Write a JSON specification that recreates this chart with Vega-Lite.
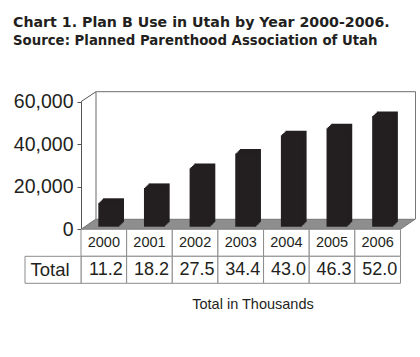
{
  "$schema": "https://vega.github.io/schema/vega-lite/v6.json",
  "autosize": {"type": "none"},
  "width": 333,
  "height": 192,
  "padding": {"left": 81, "top": 92, "right": 6, "bottom": 73},
  "background": "white",
  "config": {"view": {"stroke": null}, "font": "Liberation Sans"},
  "title": {
    "text": "Chart 1. Plan B Use in Utah by Year 2000-2006.",
    "subtitle": "Source: Planned Parenthood Association of Utah",
    "anchor": "start",
    "frame": "group",
    "font": "DejaVu Sans",
    "fontSize": 14.2,
    "fontWeight": "bold",
    "color": "#231f20",
    "subtitleFont": "DejaVu Sans",
    "subtitleFontSize": 13.3,
    "subtitleFontWeight": "bold",
    "subtitleColor": "#231f20",
    "subtitlePadding": 4,
    "dx": -68,
    "offset": 43
  },
  "data": {"values": [
    {"year": "2000", "total": 11.2},
    {"year": "2001", "total": 18.2},
    {"year": "2002", "total": 27.5},
    {"year": "2003", "total": 34.4},
    {"year": "2004", "total": 43.0},
    {"year": "2005", "total": 46.3},
    {"year": "2006", "total": 52.0}
  ]},
  "resolve": {"scale": {"x": "independent", "y": "independent"}, "axis": {"x": "independent", "y": "independent"}},
  "layer": [
    {
      "data": {"values": [{}]},
      "mark": {"type": "rule", "color": "#6d6d6d", "strokeWidth": 1, "xOffset": 15, "x2Offset": 15, "yOffset": -10},
      "encoding": {
        "x": {"datum": "2000", "type": "ordinal", "bandPosition": 0, "scale": {"domain": ["2000","2001","2002","2003","2004","2005","2006"], "range": [0, 319.5], "paddingInner": 0, "paddingOuter": 0}, "axis": null},
        "x2": {"datum": "2006", "bandPosition": 1},
        "y": {"datum": 60, "type": "quantitative", "scale": {"domain": [0, 60], "range": [137.3, 9.7], "nice": false}, "axis": null}
      }
    },
    {
      "data": {"values": [{}]},
      "mark": {"type": "rule", "color": "#b4b4b4", "strokeWidth": 2, "xOffset": 15, "yOffset": -10, "y2Offset": -10},
      "encoding": {
        "x": {"datum": "2000", "type": "ordinal", "bandPosition": 0, "scale": {"domain": ["2000","2001","2002","2003","2004","2005","2006"], "range": [0, 319.5], "paddingInner": 0, "paddingOuter": 0}, "axis": null},
        "y": {"datum": 60, "type": "quantitative", "scale": {"domain": [0, 60], "range": [137.3, 9.7], "nice": false}, "axis": null},
        "y2": {"datum": 0}
      }
    },
    {
      "data": {"values": [{}]},
      "mark": {"type": "rule", "color": "#777777", "strokeWidth": 1, "xOffset": 15, "yOffset": -10, "y2Offset": -10},
      "encoding": {
        "x": {"datum": "2006", "type": "ordinal", "bandPosition": 1, "scale": {"domain": ["2000","2001","2002","2003","2004","2005","2006"], "range": [0, 319.5], "paddingInner": 0, "paddingOuter": 0}, "axis": null},
        "y": {"datum": 60, "type": "quantitative", "scale": {"domain": [0, 60], "range": [137.3, 9.7], "nice": false}, "axis": null},
        "y2": {"datum": 0}
      }
    },
    {
      "data": {"values": [{}]},
      "mark": {"type": "rule", "color": "#555555", "strokeWidth": 1, "x2Offset": 15, "y2Offset": -10},
      "encoding": {
        "x": {"datum": "2000", "type": "ordinal", "bandPosition": 0, "scale": {"domain": ["2000","2001","2002","2003","2004","2005","2006"], "range": [0, 319.5], "paddingInner": 0, "paddingOuter": 0}, "axis": null},
        "x2": {"datum": "2000", "bandPosition": 0},
        "y": {"datum": 60, "type": "quantitative", "scale": {"domain": [0, 60], "range": [137.3, 9.7], "nice": false}, "axis": null},
        "y2": {"datum": 60}
      }
    },
    {
      "data": {"values": [{}]},
      "mark": {"type": "point", "shape": "M-1,0.03L0.913,0.03L1,-0.03L-0.913,-0.03Z", "size": 111556, "filled": true, "fill": "#8e8e8e", "stroke": "#666666", "strokeWidth": 0.8, "opacity": 1, "xOffset": 7.25, "yOffset": -5},
      "encoding": {
        "x": {"datum": "2003", "type": "ordinal", "scale": {"domain": ["2000","2001","2002","2003","2004","2005","2006"], "range": [0, 319.5], "paddingInner": 0, "paddingOuter": 0}, "axis": null},
        "y": {"datum": 0, "type": "quantitative", "scale": {"domain": [0, 60], "range": [137.3, 9.7], "nice": false}, "axis": null}
      }
    },
    {
      "mark": {"type": "bar", "color": "#231f20", "width": 21, "xOffset": 9.7, "yOffset": -7.2, "y2Offset": -7.2},
      "encoding": {
        "x": {"field": "year", "type": "ordinal", "scale": {"domain": ["2000","2001","2002","2003","2004","2005","2006"], "range": [0, 319.5], "paddingInner": 0, "paddingOuter": 0}, "axis": null},
        "y": {"field": "total", "type": "quantitative", "scale": {"domain": [0, 60], "range": [137.3, 9.7], "nice": false}, "axis": null},
        "y2": {"datum": 0}
      }
    },
    {
      "mark": {"type": "bar", "color": "#231f20", "width": 21, "xOffset": 8.6, "yOffset": -6.05, "y2Offset": -6.05},
      "encoding": {
        "x": {"field": "year", "type": "ordinal", "scale": {"domain": ["2000","2001","2002","2003","2004","2005","2006"], "range": [0, 319.5], "paddingInner": 0, "paddingOuter": 0}, "axis": null},
        "y": {"field": "total", "type": "quantitative", "scale": {"domain": [0, 60], "range": [137.3, 9.7], "nice": false}, "axis": null},
        "y2": {"datum": 0}
      }
    },
    {
      "mark": {"type": "bar", "color": "#231f20", "width": 21, "xOffset": 7.4, "yOffset": -4.9, "y2Offset": -4.9},
      "encoding": {
        "x": {"field": "year", "type": "ordinal", "scale": {"domain": ["2000","2001","2002","2003","2004","2005","2006"], "range": [0, 319.5], "paddingInner": 0, "paddingOuter": 0}, "axis": null},
        "y": {"field": "total", "type": "quantitative", "scale": {"domain": [0, 60], "range": [137.3, 9.7], "nice": false}, "axis": null},
        "y2": {"datum": 0}
      }
    },
    {
      "mark": {"type": "bar", "color": "#231f20", "width": 21, "xOffset": 6.2, "yOffset": -3.75, "y2Offset": -3.75},
      "encoding": {
        "x": {"field": "year", "type": "ordinal", "scale": {"domain": ["2000","2001","2002","2003","2004","2005","2006"], "range": [0, 319.5], "paddingInner": 0, "paddingOuter": 0}, "axis": null},
        "y": {"field": "total", "type": "quantitative", "scale": {"domain": [0, 60], "range": [137.3, 9.7], "nice": false}, "axis": null},
        "y2": {"datum": 0}
      }
    },
    {
      "mark": {"type": "bar", "color": "#231f20", "width": 21, "xOffset": 5, "yOffset": -2.6, "y2Offset": -2.6},
      "encoding": {
        "x": {"field": "year", "type": "ordinal", "scale": {"domain": ["2000","2001","2002","2003","2004","2005","2006"], "range": [0, 319.5], "paddingInner": 0, "paddingOuter": 0}, "axis": null},
        "y": {"field": "total", "type": "quantitative", "scale": {"domain": [0, 60], "range": [137.3, 9.7], "nice": false},
          "axis": {"title": null, "values": [0, 20, 40, 60], "labelExpr": "format(datum.value * 1000, ',')", "labelFont": "Liberation Sans", "labelFontSize": 19.5, "labelColor": "#231f20", "tickSize": 4, "tickColor": "#555555", "domainColor": "#555555", "labelPadding": 4, "grid": false}},
        "y2": {"datum": 0}
      }
    },
    {
      "mark": {"type": "rect", "fill": "white", "stroke": "#8c8c8c", "strokeWidth": 1},
      "encoding": {
        "x": {"field": "year", "type": "ordinal", "scale": {"domain": ["2000","2001","2002","2003","2004","2005","2006"], "range": [0, 319.5], "paddingInner": 0, "paddingOuter": 0},
          "axis": {"orient": "bottom", "labels": false, "ticks": false, "domain": false, "title": "Total in Thousands", "titleFont": "Liberation Sans", "titleFontSize": 14.5, "titleFontWeight": "normal", "titleColor": "#231f20", "titleX": 171.5, "titleY": 24, "titleBaseline": "alphabetic", "titleAnchor": "middle", "titleAlign": "center"}},
        "y": {"datum": "Year", "type": "nominal", "scale": {"domain": ["Year", "Total"], "range": [137.3, 191.3], "paddingInner": 0, "paddingOuter": 0}, "axis": null}
      }
    },
    {
      "mark": {"type": "rect", "fill": "white", "stroke": "#8c8c8c", "strokeWidth": 1},
      "encoding": {
        "x": {"field": "year", "type": "ordinal", "scale": {"domain": ["2000","2001","2002","2003","2004","2005","2006"], "range": [0, 319.5], "paddingInner": 0, "paddingOuter": 0}, "axis": null},
        "y": {"datum": "Total", "type": "nominal", "scale": {"domain": ["Year", "Total"], "range": [137.3, 191.3], "paddingInner": 0, "paddingOuter": 0}, "axis": null}
      }
    },
    {
      "mark": {"type": "text", "font": "Liberation Sans", "fontSize": 14.5, "color": "#231f20", "baseline": "middle", "align": "center"},
      "encoding": {
        "x": {"field": "year", "type": "ordinal", "scale": {"domain": ["2000","2001","2002","2003","2004","2005","2006"], "range": [0, 319.5], "paddingInner": 0, "paddingOuter": 0}, "axis": null},
        "y": {"datum": "Year", "type": "nominal", "scale": {"domain": ["Year", "Total"], "range": [137.3, 191.3], "paddingInner": 0, "paddingOuter": 0}, "axis": null},
        "text": {"field": "year"}
      }
    },
    {
      "mark": {"type": "text", "font": "Liberation Sans", "fontSize": 18, "color": "#231f20", "baseline": "middle", "align": "center", "dx": 2},
      "encoding": {
        "x": {"field": "year", "type": "ordinal", "scale": {"domain": ["2000","2001","2002","2003","2004","2005","2006"], "range": [0, 319.5], "paddingInner": 0, "paddingOuter": 0}, "axis": null},
        "y": {"datum": "Total", "type": "nominal", "scale": {"domain": ["Year", "Total"], "range": [137.3, 191.3], "paddingInner": 0, "paddingOuter": 0}, "axis": null},
        "text": {"field": "total", "type": "quantitative", "format": ".1f"}
      }
    },
    {
      "data": {"values": [{"label": "Total"}]},
      "mark": {"type": "rect", "fill": "white", "stroke": "#8c8c8c", "strokeWidth": 1},
      "encoding": {
        "x": {"field": "label", "type": "nominal", "scale": {"domain": ["Total"], "range": [-56, 0], "paddingInner": 0, "paddingOuter": 0}, "axis": null},
        "y": {"datum": "Total", "type": "nominal", "scale": {"domain": ["Year", "Total"], "range": [137.3, 191.3], "paddingInner": 0, "paddingOuter": 0}, "axis": null}
      }
    },
    {
      "data": {"values": [{"label": "Total"}]},
      "mark": {"type": "text", "font": "Liberation Sans", "fontSize": 18.5, "color": "#231f20", "baseline": "middle", "align": "center", "dx": -3},
      "encoding": {
        "x": {"field": "label", "type": "nominal", "scale": {"domain": ["Total"], "range": [-56, 0], "paddingInner": 0, "paddingOuter": 0}, "axis": null},
        "y": {"datum": "Total", "type": "nominal", "scale": {"domain": ["Year", "Total"], "range": [137.3, 191.3], "paddingInner": 0, "paddingOuter": 0}, "axis": null},
        "text": {"field": "label"}
      }
    }
  ]
}
